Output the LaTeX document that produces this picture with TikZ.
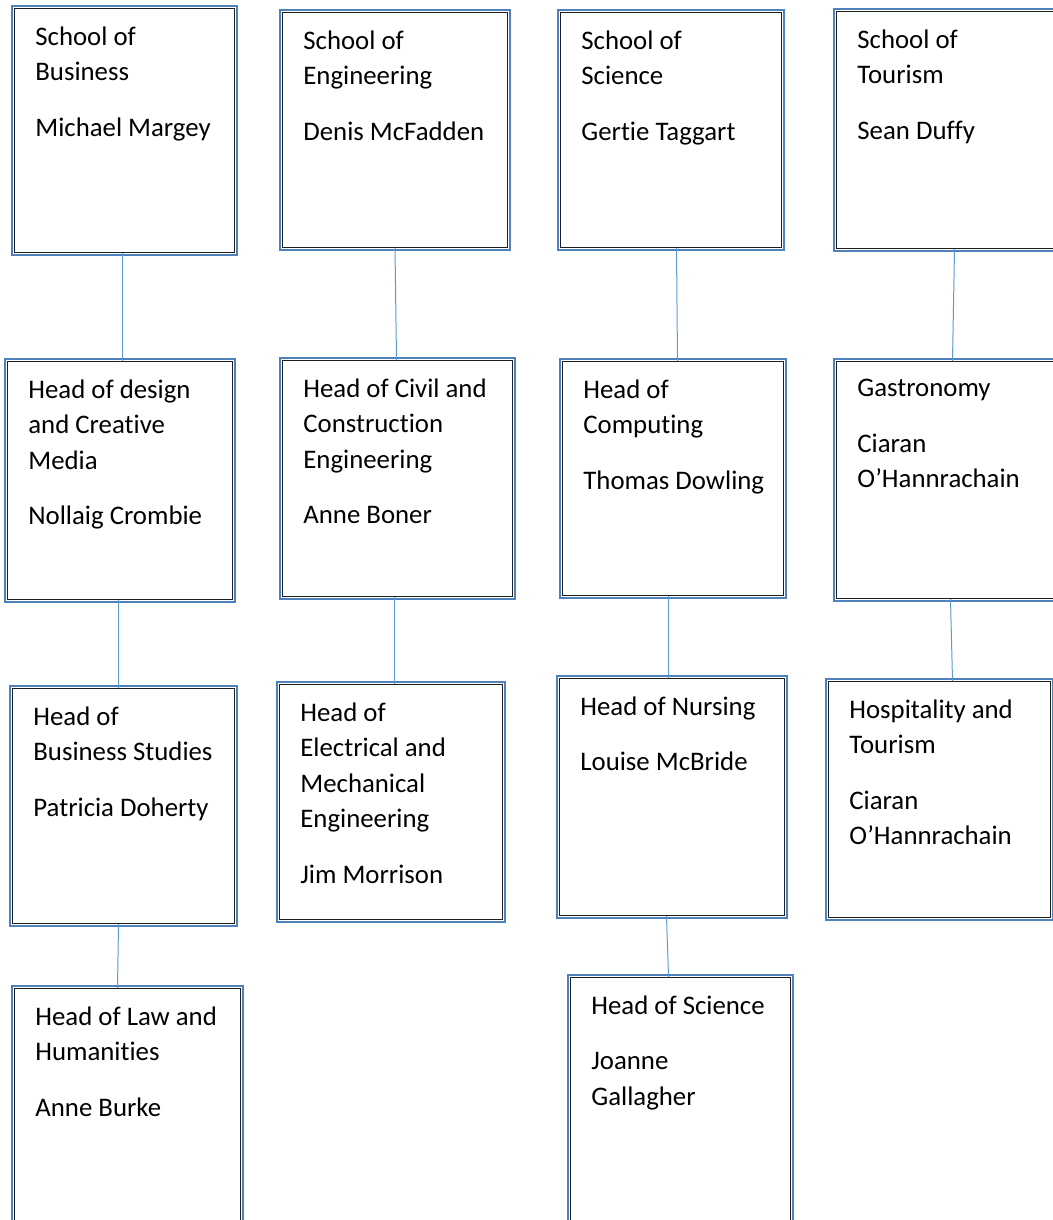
\documentclass[tikz,border=0pt]{standalone}
\usepackage{fontspec}
\setmainfont{Carlito}[Ligatures=NoCommon]
\usepackage{tikz}
\usetikzlibrary{calc}
\usepackage{xcolor}
\definecolor{edgeblue}{HTML}{4F81BD}
\definecolor{linkblue}{HTML}{5B9BD5}
\definecolor{boxline}{HTML}{1E1E1E}

\begin{document}
\begin{tikzpicture}[x=0.5pt, y=-0.5pt,
    unit/.style={draw=boxline, fill=white, line width=0.5pt, inner sep=0pt, anchor=north west},
    staff/.style={anchor=north west, inner sep=0pt, align=left, font=\fontsize{13.4pt}{17.75pt}\selectfont},
    outerblue/.style={draw=edgeblue, line width=1.2pt},
    link/.style={draw=linkblue, line width=0.5pt}]

                      \useasboundingbox (0,0) rectangle (1053,1220);
                      \clip (0,0) rectangle (1053,1220);

                      % schools
                      \node[unit, minimum width=110pt, minimum height=122pt] (business) at (14,8) {};
                      \node[unit, minimum width=112.5pt, minimum height=117.5pt] (engineering) at (282,12) {};
                      \node[unit, minimum width=110.5pt, minimum height=117.5pt] (science) at (560,12) {};
                      \node[unit, minimum width=112.5pt, minimum height=118.5pt] (tourism) at (836,11) {};

                      % heads, second row
                      \node[unit, minimum width=112.5pt, minimum height=119pt] (design) at (7,361) {};
                      \node[unit, minimum width=115pt, minimum height=118pt] (civil) at (282,360) {};
                      \node[unit, minimum width=110.5pt, minimum height=117pt] (computing) at (562,361) {};
                      \node[unit, minimum width=112.5pt, minimum height=118.5pt] (gastronomy) at (836,361) {};

                      % heads, third row
                      \node[unit, minimum width=111pt, minimum height=117.5pt] (studies) at (12,688) {};
                      \node[unit, minimum width=111.5pt, minimum height=117.5pt] (electrical) at (279,684) {};
                      \node[unit, minimum width=112.5pt, minimum height=118.5pt] (nursing) at (559,678) {};
                      \node[unit, minimum width=111pt, minimum height=118pt] (hospitality) at (828,681) {};

                      % heads, fourth row
                      \node[unit, minimum width=113pt, minimum height=130pt] (law) at (14,988) {};
                      \node[unit, minimum width=110pt, minimum height=130pt] (headscience) at (570,977) {};

                      \foreach \n in {business,engineering,science,tourism,design,civil,computing,gastronomy,
                                      studies,electrical,nursing,hospitality,law,headscience}{
                          \draw[outerblue] ($(\n.south west)+(-2,2)$) rectangle ($(\n.north east)+(2,-2)$);
                      }

                      \node[staff] (businesstext) at ($(business.north west)+(21,18)$) {School of\\Business\\[10pt]Michael Margey};
                      \node[staff] (engineeringtext) at ($(engineering.north west)+(21,18)$) {School of\\Engineering\\[10pt]Denis McFadden};
                      \node[staff] (sciencetext) at ($(science.north west)+(21,18)$) {School of\\Science\\[10pt]Gertie Taggart};
                      \node[staff] (tourismtext) at ($(tourism.north west)+(21,18)$) {School of\\Tourism\\[10pt]Sean Duffy};

                      \node[staff] (designtext) at ($(design.north west)+(21,18)$) {Head of design\\and Creative\\Media\\[10pt]Nollaig Crombie};
                      \node[staff] (civiltext) at ($(civil.north west)+(21,18)$) {Head of Civil and\\Construction\\Engineering\\[10pt]Anne Boner};
                      \node[staff] (computingtext) at ($(computing.north west)+(21,18)$) {Head of\\Computing\\[10pt]Thomas Dowling};
                      \node[staff] (gastronomytext) at ($(gastronomy.north west)+(21,18)$) {Gastronomy\\[10pt]Ciaran\\O’Hannrachain};

                      \node[staff] (studiestext) at ($(studies.north west)+(21,18)$) {Head of\\Business Studies\\[10pt]Patricia Doherty};
                      \node[staff] (electricaltext) at ($(electrical.north west)+(21,18)$) {Head of\\Electrical and\\Mechanical\\Engineering\\[10pt]Jim Morrison};
                      \node[staff] (nursingtext) at ($(nursing.north west)+(21,18)$) {Head of Nursing\\[10pt]Louise McBride};
                      \node[staff] (hospitalitytext) at ($(hospitality.north west)+(21,18)$) {Hospitality and\\Tourism\\[10pt]Ciaran\\O’Hannrachain};

                      \node[staff] (lawtext) at ($(law.north west)+(21,18)$) {Head of Law and\\Humanities\\[10pt]Anne Burke};
                      \node[staff] (headsciencetext) at ($(headscience.north west)+(21,18)$) {Head of Science\\[10pt]Joanne\\Gallagher};

                      % reporting lines
                      \foreach \u/\us/\v/\vs in {business/-1/design/1.25, design/-0.75/studies/-2.5, studies/-2.5/law/-5,
                                                 engineering/0/civil/-0.5, civil/-1.5/electrical/1.75,
                                                 science/2.75/computing/2.25, computing/-2.25/nursing/-1.75, nursing/-2.75/headscience/-6,
                                                 tourism/2.75/gastronomy/1.75, gastronomy/0.75/hospitality/6.5}{
                          \draw[link] ([xshift=\us pt]\u.south) -- ([xshift=\vs pt]\v.north);
                      }

\end{tikzpicture}
\end{document}
